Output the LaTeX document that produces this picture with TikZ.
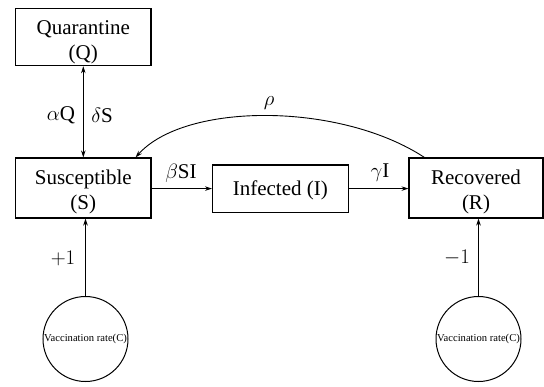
\documentclass[tikz,border=0pt]{standalone}
\usepackage{fontspec}
\setmainfont{Liberation Serif}
\usetikzlibrary{arrows.meta}
\begin{document}
\begin{tikzpicture}[x=1pt,y=-1pt,
  box/.style={draw,line width=1.1pt,inner sep=0pt},
  txt/.style={anchor=base,inner sep=0pt,font=\fontsize{21}{25}\selectfont},
  vacc/.style={draw,circle,line width=1pt,minimum size=85pt,inner sep=0pt,font=\fontsize{10.6}{12}\selectfont},
  tip/.tip={Stealth[length=7pt,width=4.5pt]},
  flow/.style={line width=0.9pt,-tip},
  lbl/.style={font=\fontsize{21}{24}\selectfont,inner sep=0pt}]
\useasboundingbox (0,0) rectangle (544,386);
% boxes
\node[box,minimum width=135.4pt,minimum height=57.4pt] (Q) at (83.3,37) {};
\node[box,minimum width=135.4pt,minimum height=60pt] (S) at (83.3,188) {};
\node[box,minimum width=135.5pt,minimum height=47.3pt] (I) at (280.3,188.6) {};
\node[box,minimum width=134pt,minimum height=60pt] (R) at (476,188) {};
% box texts
\node[txt] (Qt1) at (83.3,34) {Quarantine};
\node[txt] (Qt2) at (83.3,59) {(Q)};
\node[txt] (St1) at (83.3,184) {Susceptible};
\node[txt] (St2) at (83.3,209) {(S)};
\node[txt] (It1) at (280.3,195) {Infected (I)};
\node[txt] (Rt1) at (476,184) {Recovered};
\node[txt] (Rt2) at (476,209) {(R)};
% vaccination circles
\node[vacc] (C1) at (85.5,339) {Vaccination rate(C)};
\node[vacc] (C2) at (478.5,339) {Vaccination rate(C)};
% connectors
\draw[flow,tip-tip] (Q.south) -- (S.north);
\draw[flow] (S.east |- I.west) -- (I.west);
\draw[flow] (I.east) -- (I.east -| R.west);
\draw[flow] (C1.north) -- (C1.north |- S.south);
\draw[flow] (C2.north) -- (C2.north |- R.south);
\coordinate (rs) at ([xshift=16pt]R.north west);
\coordinate (se) at ([xshift=-16pt]S.north east);
\draw[flow] (rs) .. controls (340,102) and (185,102) .. (se);
% labels
\node[lbl] (rho) at (269,103) {$\rho$};
\node[lbl] (aQ) at (61,115) {$\alpha$Q};
\node[lbl] (dS) at (102,115) {$\delta$S};
\node[lbl] (bSI) at (181,173) {$\beta$SI};
\node[lbl] (gI) at (380,173) {$\gamma$I};
\node[lbl] (p1) at (63,258) {$+1$};
\node[lbl] (m1) at (457,258) {$-1$};
\end{tikzpicture}
\end{document}
